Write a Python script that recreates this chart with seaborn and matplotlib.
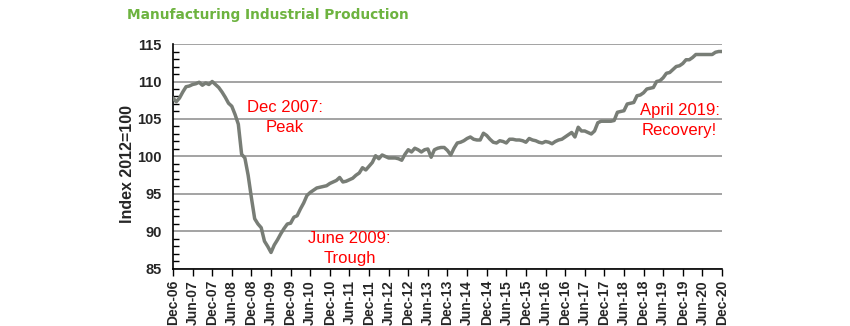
import matplotlib
matplotlib.use("Agg")
import matplotlib.pyplot as plt
import seaborn as sns
import pandas as pd
import numpy as np

# Monthly index values, Dec-06 .. Dec-20 (Index 2012=100)
values = [
    107.8, 107.3, 107.8, 108.6, 109.3, 109.4, 109.6, 109.7, 109.9, 109.5, 109.8, 109.6,  # Dec06-Nov07
    110.0, 109.6, 109.2, 108.6, 107.9, 107.1, 106.7, 105.6, 104.3, 100.3, 99.8, 97.5,    # Dec07-Nov08
    94.5, 91.7, 91.0, 90.5, 88.7, 88.0, 87.2, 88.2, 88.9, 89.7, 90.4, 91.0,              # Dec08-Nov09
    91.1, 91.9, 92.1, 93.0, 93.8, 94.8, 95.2, 95.5, 95.8, 95.9, 96.0, 96.1,              # Dec09-Nov10
    96.4, 96.6, 96.8, 97.2, 96.6, 96.7, 96.9, 97.1, 97.5, 97.8, 98.5, 98.2,              # Dec10-Nov11
    98.7, 99.2, 100.1, 99.7, 100.2, 100.0, 99.8, 99.8, 99.8, 99.7, 99.5, 100.3,          # Dec11-Nov12
    100.9, 100.6, 101.1, 100.9, 100.6, 100.9, 101.0, 99.9, 100.9, 101.1, 101.2, 101.2,   # Dec12-Nov13
    100.8, 100.2, 101.1, 101.8, 101.9, 102.1, 102.4, 102.6, 102.3, 102.2, 102.2, 103.1,  # Dec13-Nov14
    102.8, 102.3, 101.9, 101.8, 102.1, 102.0, 101.8, 102.3, 102.3, 102.2, 102.2, 102.1,  # Dec14-Nov15
    101.9, 102.4, 102.2, 102.1, 101.9, 101.8, 102.0, 101.9, 101.7, 102.0, 102.2, 102.3,  # Dec15-Nov16
    102.6, 102.9, 103.2, 102.6, 103.9, 103.4, 103.4, 103.2, 103.0, 103.4, 104.5, 104.7,  # Dec16-Nov17
    104.7, 104.7, 104.7, 104.8, 105.9, 106.0, 106.1, 107.0, 107.1, 107.2, 108.1, 108.2,  # Dec17-Nov18
    108.5, 109.0, 109.1, 109.2, 110.0, 110.1, 110.5, 111.1, 111.2, 111.6, 112.0, 112.1,  # Dec18-Nov19
    112.4, 112.9, 112.9, 113.2, 113.6, 113.6, 113.6, 113.6, 113.6, 113.6, 113.9, 114.0,  # Dec19-Nov20
    114.0,                                                                                # Dec20
]
months = list(range(len(values)))

tick_labels = ["Dec-06", "Jun-07", "Dec-07", "Jun-08", "Dec-08", "Jun-09", "Dec-09",
               "Jun-10", "Dec-10", "Jun-11", "Dec-11", "Jun-12", "Dec-12", "Jun-13",
               "Dec-13", "Jun-14", "Dec-14", "Jun-15", "Dec-15", "Jun-16", "Dec-16",
               "Jun-17", "Dec-17", "Jun-18", "Dec-18", "Jun-19", "Dec-19", "Jun-20",
               "Dec-20"]
tick_pos = list(range(0, 6 * len(tick_labels), 6))

y_ticks = [85, 90, 95, 100, 105, 110, 115]

annotations = [
    ("Dec 2007:\nPeak", 34.3, 105.2),
    ("June 2009:\nTrough", 54.0, 87.7),
    ("April 2019:\nRecovery!", 155.0, 104.8),
]

title = "Manufacturing Industrial Production"
ylabel = "Index 2012=100"

df = pd.DataFrame({"month": months, "value": values})

sns.set_style("white")
plt.rcParams["font.family"] = ["Liberation Sans", "DejaVu Sans"]

fig = plt.figure(figsize=(8.5, 3.26), dpi=100)
ax = fig.add_axes([0.2035, 0.175, 0.6459, 0.690])

for yv in y_ticks:
    ax.axhline(yv, color="#8a8a8a", lw=1.1, zorder=1)

sns.lineplot(data=df, x="month", y="value", ax=ax, color="#787d76", lw=2.5, zorder=3)

ax.set_xlim(0, 168)
ax.set_ylim(85, 115)
ax.set_xticks(tick_pos)
ax.set_xticklabels(tick_labels, rotation=90, fontsize=10, fontweight="bold")
ax.set_yticks(y_ticks)
ax.set_yticklabels([str(v) for v in y_ticks], fontsize=10.5, fontweight="bold")
ax.set_yticks(list(range(85, 116)), minor=True)
ax.tick_params(axis="y", which="major", direction="out", length=4, width=1, color="black", pad=4)
ax.tick_params(axis="y", which="minor", direction="in", length=4, width=1, color="black", left=True)
ax.tick_params(axis="x", which="major", direction="out", length=5, width=1, color="black", pad=3, bottom=True)

ax.set_xlabel("")
ax.set_ylabel(ylabel, fontsize=11.5, fontweight="bold")
ax.yaxis.set_label_coords(-0.069, 0.465)

for s in ["top", "right"]:
    ax.spines[s].set_visible(False)
for s in ["left", "bottom"]:
    ax.spines[s].set_color("black")
    ax.spines[s].set_linewidth(1.2)

for text, xm, yv in annotations:
    ax.text(xm, yv, text, color="#ff0000", fontsize=12, ha="center", va="center",
            linespacing=1.4, zorder=4)

fig.text(127 / 850, 1 - 15 / 326, title, color="#6db33f", fontsize=9.9,
         fontweight="bold", family=["DejaVu Sans"], ha="left", va="center")

fig.savefig("out.png", dpi=100)
